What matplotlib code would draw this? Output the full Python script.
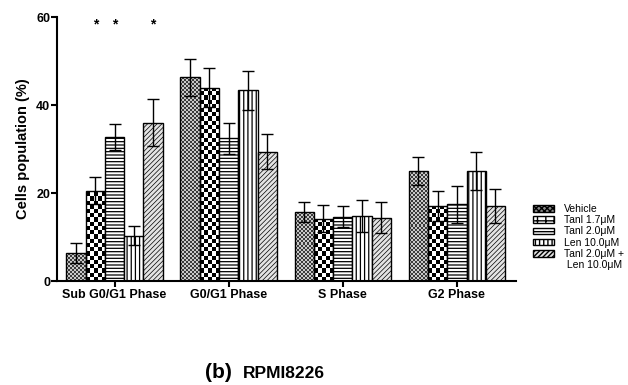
import numpy as np
import matplotlib
matplotlib.use("Agg")
import matplotlib.pyplot as plt
from matplotlib.patches import Patch
from matplotlib.colors import ListedColormap

plt.rcParams['font.family'] = ['Liberation Sans', 'DejaVu Sans']

phases = ["Sub G0/G1 Phase", "G0/G1 Phase", "S Phase", "G2 Phase"]
series = ["Vehicle", "Tanl 1.7μM", "Tanl 2.0μM", "Len 10.0μM", "Tanl 2.0μM +"]
extra_label = " Len 10.0μM"

vehicle = [6.3, 46.3, 15.7, 25.0]
tanl17 = [20.5, 43.9, 14.2, 17.1]
tanl20 = [32.7, 32.4, 14.6, 17.4]
len10 = [10.3, 43.3, 14.7, 25.0]
combo = [36.0, 29.4, 14.4, 17.0]

vehicle_err = [2.3, 4.2, 2.3, 3.2]
tanl17_err = [3.1, 4.4, 3.0, 3.4]
tanl20_err = [3.0, 3.6, 2.4, 4.3]
len10_err = [2.2, 4.4, 3.6, 4.4]
combo_err = [5.3, 3.9, 3.6, 3.9]

significant = [1, 2, 4]  # series index with '*' over Sub G0/G1

values = [vehicle, tanl17, tanl20, len10, combo]
errors = [vehicle_err, tanl17_err, tanl20_err, len10_err, combo_err]

W, H = 628, 385
fig = plt.figure(figsize=(W / 100, H / 100), dpi=100)
ax_l, ax_r, ax_t, ax_b = 57, 516, 17, 281
ax = fig.add_axes([ax_l / W, 1 - ax_b / H, (ax_r - ax_l) / W, (ax_b - ax_t) / H])

bw = 0.169
xg = np.arange(len(phases))
xlim = (-0.504, 3.518)
ylim = (0, 60)
ax.set_xlim(*xlim)
ax.set_ylim(*ylim)

styles = [
    dict(facecolor='none', hatch=None, hlw=0.4),
    dict(facecolor='none', hatch=None, hlw=1.0),
    dict(facecolor='white', hatch='-----', hlw=0.9),
    dict(facecolor='white', hatch='||||', hlw=0.9),
    dict(facecolor='#e4e4e4', hatch='///////', hlw=0.5),
]
# checker textures: (cell size in px, dark colour, light colour)
textures = {0: (2.0, '#3a3a3a', '#c8c8c8'), 1: (4.2, 'black', 'white')}

def set_hlw(p, lw):
    try:
        p.set_hatch_linewidth(lw)
    except Exception:
        pass

dx_pp = (xlim[1] - xlim[0]) / (ax_r - ax_l)
dy_pp = (ylim[1] - ylim[0]) / (ax_b - ax_t)

for i, (vals, errs) in enumerate(zip(values, errors)):
    xs = xg + (i - 2) * bw
    st = styles[i]
    with plt.rc_context({'hatch.linewidth': st['hlw']}):
        bars = ax.bar(xs, vals, width=bw, facecolor=st['facecolor'], edgecolor='black',
                      linewidth=1.0, hatch=st['hatch'], zorder=2)
    for b in bars:
        set_hlw(b, st['hlw'])
    if i in textures:
        cell, c0, c1 = textures[i]
        cmap = ListedColormap([c0, c1])
        for b in bars:
            x0, w, h = b.get_x(), b.get_width(), b.get_height()
            nx = max(1, int(round(w / (cell * dx_pp))))
            ny = max(1, int(np.ceil(h / (cell * dy_pp))))
            img = np.indices((ny, nx)).sum(0) % 2
            im = ax.imshow(img, cmap=cmap, vmin=0, vmax=1, origin='lower',
                           extent=(x0, x0 + w, 0, ny * cell * dy_pp), aspect='auto',
                           interpolation='nearest', zorder=1.5)
            im.set_clip_path(b)
    ax.errorbar(xs, vals, yerr=errs, fmt='none', ecolor='black', elinewidth=1.0,
                capsize=4, capthick=1.0, zorder=3)

ax.set_xlim(*xlim)
ax.set_ylim(*ylim)

for i in significant:
    ax.text(xg[0] + (i - 2) * bw, 58.3, '*', ha='center', va='center', fontsize=10, fontweight='bold')

for s in ['top', 'right']:
    ax.spines[s].set_visible(False)
for s in ['left', 'bottom']:
    ax.spines[s].set_linewidth(1.5)

ax.set_yticks([0, 20, 40, 60])
ax.set_xticks(xg)
ax.set_xticklabels(phases, fontsize=9, fontweight='bold')
ax.tick_params(axis='y', labelsize=9, length=4, width=1.5, pad=1)
ax.tick_params(axis='x', length=4, width=1.5, pad=2)
for lab in ax.get_yticklabels():
    lab.set_fontweight('bold')
ax.set_ylabel('Cells population (%)', fontsize=10.5, fontweight='bold', labelpad=4)

handles = []
legend_styles = [
    dict(facecolor='#8a8a8a', hatch='xxxxxx', hlw=0.4),
    dict(facecolor='white', hatch='++', hlw=2.0),
    styles[2], styles[3], styles[4],
]
for st in legend_styles:
    p = Patch(facecolor=st['facecolor'], edgecolor='black', hatch=st['hatch'], linewidth=1.0)
    set_hlw(p, st['hlw'])
    handles.append(p)
handles.append(Patch(facecolor='none', edgecolor='none'))
labels = series + [extra_label]
leg = fig.legend(handles, labels, loc='upper left', bbox_to_anchor=(533 / W, 1 - 204 / H),
                 frameon=False, fontsize=7.5, handlelength=2.0, handleheight=0.6,
                 labelspacing=0.12, handletextpad=1.0, borderaxespad=0, borderpad=0)

fig.text(205 / W, 1 - 373 / H, '(b)', fontsize=15, fontweight='bold', ha='left', va='center')
fig.text(243 / W, 1 - 374 / H, 'RPMI8226', fontsize=12.5, fontweight='bold', ha='left', va='center')

fig.savefig('out.png', dpi=100)
